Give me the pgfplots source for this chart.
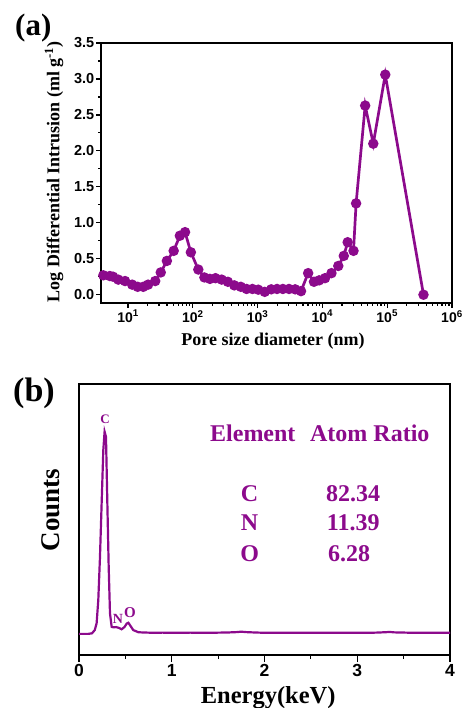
\documentclass[border=0pt]{standalone}
\usepackage{fontspec}
\setmainfont{Liberation Serif}
\setsansfont{Liberation Sans}
\usepackage{pgfplots}
\pgfplotsset{compat=1.18}
\definecolor{pp}{RGB}{140,10,140}

\begin{document}
\begin{tikzpicture}
\useasboundingbox (0,0) rectangle (464pt,708pt);

% (a) pore size distribution
\begin{axis}[
    at={(101pt,405pt)}, anchor=south west,
    scale only axis, width=351pt, height=260pt,
    xmode=log, xmin=3.83, xmax=1e6,
    ymin=-0.115, ymax=3.5,
    xtick={10,100,1000,10000,100000,1000000},
    xticklabels={10\textsuperscript{1},10\textsuperscript{2},10\textsuperscript{3},10\textsuperscript{4},10\textsuperscript{5},10\textsuperscript{6}},
    ytick={0,0.5,...,3.5}, minor y tick num=1,
    tick pos=left, tick align=outside,
    major tick length=5pt, minor tick length=3pt,
    every tick/.style={black, line width=1.2pt},
    axis line style={line width=1.6pt},
    yticklabel style={/pgf/number format/assume math mode=true,
        /pgf/number format/fixed, /pgf/number format/precision=1,
        /pgf/number format/fixed zerofill,
        font=\sffamily\bfseries\fontsize{14.5}{14.5}\selectfont, inner sep=1.5pt},
    xticklabel style={font=\sffamily\bfseries\fontsize{14}{14}\selectfont, inner sep=2pt},
    xlabel={Pore size diameter (nm)},
    ylabel={Log Differential Intrusion (ml g\textsuperscript{-1})},
    xlabel style={at={([yshift=-42.7pt]axis description cs:0.49,0)}, anchor=base,
        font=\bfseries\fontsize{18}{18}\selectfont},
    ylabel style={at={([xshift=-47pt]axis description cs:0,0.505)}, anchor=center,
        font=\bfseries\fontsize{18}{18}\selectfont},
]
\addplot[pp, line width=2.7pt, mark=*, mark size=3.8pt] coordinates {
(4.16,0.27) (5.25,0.26) (5.89,0.25) (7.08,0.21) (9.0,0.19) (11.6,0.14)
(14.1,0.11) (17.2,0.11) (20.4,0.14) (26.3,0.19) (32.0,0.31) (39.8,0.47)
(50.7,0.61) (63.1,0.82) (75.9,0.87) (93.3,0.59) (121.6,0.35) (151,0.24)
(184,0.22) (224,0.23) (279,0.21) (347,0.18) (437,0.13) (550,0.11)
(676,0.08) (832,0.08) (1023,0.07) (1288,0.04) (1622,0.075) (1995,0.08)
(2455,0.08) (3055,0.08) (3802,0.075) (4677,0.05) (6026,0.30) (7413,0.18)
(8913,0.20) (10965,0.23) (13804,0.30) (17579,0.40) (21380,0.54) (24547,0.73)
(30200,0.61) (33113,1.27) (45709,2.63) (60954,2.10) (93325,3.06) (363078,0.0)
};
\end{axis}

% (b) EDS spectrum
\begin{axis}[
    at={(79pt,53pt)}, anchor=south west,
    scale only axis, width=371pt, height=271pt,
    xmin=0, xmax=4, ymin=0, ymax=100,
    xtick={0,1,2,3,4}, minor x tick num=1,
    ytick=\empty,
    tick pos=left, tick align=outside,
    major tick length=7pt, minor tick length=4pt,
    every tick/.style={black, line width=1.2pt},
    axis line style={line width=1.6pt},
    xticklabel style={/pgf/number format/assume math mode=true,
        font=\sffamily\bfseries\fontsize{17.5}{17.5}\selectfont, inner sep=2pt},
    xlabel={Energy(keV)},
    ylabel={Counts},
    xlabel style={at={([yshift=-48.7pt]axis description cs:0.51,0)}, anchor=base,
        font=\bfseries\fontsize{24.5}{24.5}\selectfont},
    ylabel style={at={([xshift=-28pt]axis description cs:0,0.535)}, anchor=center,
        font=\bfseries\fontsize{27}{27}\selectfont},
]
\addplot[pp, line width=2.2pt] coordinates {
(0,7.8) (0.05,7.8) (0.10,7.8) (0.14,8.0) (0.17,9.2) (0.19,11.7) (0.208,20.3)
(0.226,36) (0.245,57) (0.262,75.6) (0.276,82.4) (0.291,80.5) (0.305,57)
(0.32,32.6) (0.334,15.4) (0.352,10.4) (0.37,10.2) (0.40,10.3) (0.43,10.0)
(0.46,9.5) (0.49,10.3) (0.515,11.6) (0.532,11.9) (0.55,11.0) (0.585,9.2)
(0.64,8.4) (0.7,8.3) (0.8,8.2) (0.9,8.25) (1.0,8.2) (1.1,8.2) (1.2,8.25)
(1.3,8.2) (1.4,8.2) (1.5,8.25) (1.6,8.3) (1.7,8.45) (1.75,8.6) (1.8,8.45)
(1.9,8.3) (2.0,8.2) (2.2,8.2) (2.4,8.2) (2.6,8.2) (2.8,8.2) (3.0,8.2)
(3.2,8.25) (3.3,8.4) (3.35,8.5) (3.4,8.35) (3.6,8.2) (3.8,8.2) (4.0,8.2)
};
\begin{scope}[every node/.style={text=pp, inner sep=0pt, font=\bfseries\fontsize{24}{24}\selectfont}]
\node[anchor=base, font=\bfseries\fontsize{13}{13}\selectfont] at (axis cs:0.28,85.4) {C};
\node[anchor=base, font=\bfseries\fontsize{14}{14}\selectfont] at (axis cs:0.42,11.7) {N};
\node[anchor=base, font=\bfseries\fontsize{15}{15}\selectfont] at (axis cs:0.55,13.9) {O};
\node[anchor=base west] at (axis cs:1.412,78.7) {Element};
\node[anchor=base west] at (axis cs:2.49,78.7) {Atom Ratio};
\node[anchor=base] at (axis cs:1.84,56.6) {C};
\node[anchor=base] at (axis cs:1.84,46.1) {N};
\node[anchor=base] at (axis cs:1.84,34.4) {O};
\node[anchor=base west] at (axis cs:2.663,56.6) {82.34};
\node[anchor=base west] at (axis cs:2.67,46.1) {11.39};
\node[anchor=base west] at (axis cs:2.685,34.4) {6.28};
\end{scope}
\end{axis}

\node[anchor=base west, inner sep=0pt, font=\bfseries\fontsize{31}{31}\selectfont] at (15pt,672pt) {(a)};
\node[anchor=base west, inner sep=0pt, font=\bfseries\fontsize{34}{34}\selectfont] at (13pt,306pt) {(b)};
\end{tikzpicture}
\end{document}
